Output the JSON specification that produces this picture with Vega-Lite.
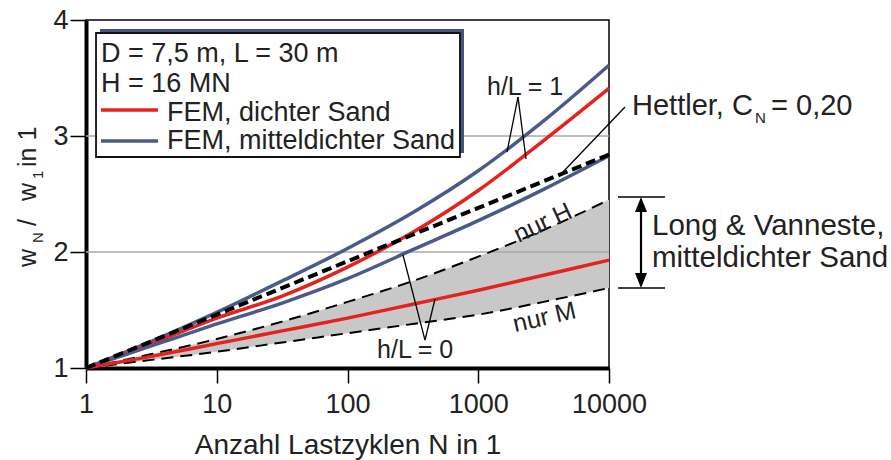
{
  "$schema": "https://vega.github.io/schema/vega-lite/v6.json",
  "width": 523,
  "height": 348,
  "autosize": {"type": "none"},
  "padding": {"left": 86, "top": 20, "right": 282, "bottom": 92},
  "background": "white",
  "config": {"view": {"stroke": "black", "strokeWidth": 1.5}, "font": "Liberation Sans"},
  "datasets": {
    "curves": [
      {"N": 1, "w": 1.0, "s": "m1"}, {"N": 3.162, "w": 1.23, "s": "m1"}, {"N": 10, "w": 1.48, "s": "m1"}, {"N": 31.62, "w": 1.75, "s": "m1"}, {"N": 100, "w": 2.03, "s": "m1"}, {"N": 316.2, "w": 2.34, "s": "m1"}, {"N": 1000, "w": 2.70, "s": "m1"}, {"N": 3162, "w": 3.13, "s": "m1"}, {"N": 10000, "w": 3.61, "s": "m1"},
      {"N": 1, "w": 1.0, "s": "d1"}, {"N": 3.162, "w": 1.21, "s": "d1"}, {"N": 10, "w": 1.43, "s": "d1"}, {"N": 31.62, "w": 1.62, "s": "d1"}, {"N": 100, "w": 1.87, "s": "d1"}, {"N": 316.2, "w": 2.17, "s": "d1"}, {"N": 1000, "w": 2.53, "s": "d1"}, {"N": 3162, "w": 2.96, "s": "d1"}, {"N": 10000, "w": 3.41, "s": "d1"},
      {"N": 1, "w": 1.0, "s": "m0"}, {"N": 3.162, "w": 1.19, "s": "m0"}, {"N": 10, "w": 1.38, "s": "m0"}, {"N": 31.62, "w": 1.56, "s": "m0"}, {"N": 100, "w": 1.77, "s": "m0"}, {"N": 316.2, "w": 2.02, "s": "m0"}, {"N": 1000, "w": 2.27, "s": "m0"}, {"N": 3162, "w": 2.54, "s": "m0"}, {"N": 10000, "w": 2.83, "s": "m0"},
      {"N": 1, "w": 1.0, "s": "d0"}, {"N": 3.162, "w": 1.10, "s": "d0"}, {"N": 10, "w": 1.21, "s": "d0"}, {"N": 31.62, "w": 1.32, "s": "d0"}, {"N": 100, "w": 1.43, "s": "d0"}, {"N": 316.2, "w": 1.55, "s": "d0"}, {"N": 1000, "w": 1.67, "s": "d0"}, {"N": 3162, "w": 1.80, "s": "d0"}, {"N": 10000, "w": 1.93, "s": "d0"}
    ],
    "hettler": [
      {"N": 1, "w": 1.0}, {"N": 10, "w": 1.46}, {"N": 100, "w": 1.92}, {"N": 1000, "w": 2.38}, {"N": 10000, "w": 2.84}
    ],
    "band": [
      {"N": 1, "w": 1.0, "lo": 1.0}, {"N": 3.162, "w": 1.12, "lo": 1.07}, {"N": 10, "w": 1.25, "lo": 1.14}, {"N": 31.62, "w": 1.40, "lo": 1.22}, {"N": 100, "w": 1.57, "lo": 1.30}, {"N": 316.2, "w": 1.75, "lo": 1.38}, {"N": 1000, "w": 1.96, "lo": 1.46}, {"N": 3162, "w": 2.19, "lo": 1.57}, {"N": 10000, "w": 2.45, "lo": 1.69}
    ],
    "bandLo": [
      {"N": 1, "w": 1.0}, {"N": 3.162, "w": 1.07}, {"N": 10, "w": 1.14}, {"N": 31.62, "w": 1.22}, {"N": 100, "w": 1.30}, {"N": 316.2, "w": 1.38}, {"N": 1000, "w": 1.46}, {"N": 3162, "w": 1.57}, {"N": 10000, "w": 1.69}
    ],
    "grid": [{"N": 1, "N2": 10000, "w": 2}, {"N": 1, "N2": 10000, "w": 3}],
    "pointers": [
      {"N": 2014, "w": 3.336, "N2": 1659, "w2": 2.862},
      {"N": 2014, "w": 3.336, "N2": 2318, "w2": 2.802},
      {"N": 13255, "w": 3.25, "N2": 4449, "w2": 2.69},
      {"N": 391.5, "w": 1.241, "N2": 265.7, "w2": 1.974},
      {"N": 391.5, "w": 1.241, "N2": 467, "w2": 1.595}
    ],
    "bracketH": [
      {"N": 11720, "N2": 26800, "w": 2.474},
      {"N": 11720, "N2": 26800, "w": 1.690}
    ],
    "bracketV": [{"N": 17570, "w": 2.43, "w2": 1.73}],
    "arrowUp": [{"N": 17570, "w": 2.409}],
    "arrowDown": [{"N": 17570, "w": 1.754}],
    "legendShadow": [{"N": 1.279, "N2": 778, "w": 2.853, "w2": 3.922}],
    "legendBox": [{"N": 1.193, "N2": 724.7, "w": 2.819, "w2": 3.888}],
    "legendLines": [
      {"N": 1.302, "N2": 3.554, "w": 3.224, "s": "d1"},
      {"N": 1.302, "N2": 3.554, "w": 2.957, "s": "m1"}
    ],
    "legendText": [
      {"N": 1.302, "w": 3.638, "text": "D = 7,5 m, L = 30 m"},
      {"N": 1.302, "w": 3.379, "text": "H = 16 MN"},
      {"N": 4.164, "w": 3.129, "text": "FEM, dichter Sand"},
      {"N": 4.164, "w": 2.888, "text": "FEM, mitteldichter Sand"}
    ],
    "annoHettler": [
      {"N": 14996, "w": 3.181, "text": "Hettler, C"},
      {"N": 173400, "w": 3.181, "text": "= 0,20"}
    ],
    "annoLong": [
      {"N": 21320, "w": 2.147, "text": "Long & Vanneste,"},
      {"N": 21320, "w": 1.871, "text": "mitteldichter Sand"}
    ],
    "annoHL": [
      {"N": 1167, "w": 3.353, "text": "h/L = 1"},
      {"N": 168.2, "w": 1.086, "text": "h/L = 0"}
    ],
    "annoSub": [
      {"N": 130900, "w": 3.112, "text": "N"}
    ],
    "nurH": [{"N": 3311, "w": 2.19, "text": "nur H"}],
    "nurM": [{"N": 3311, "w": 1.37, "text": "nur M"}],
    "ytitleMain": [
      {"N": 0.4180, "w": 1.871, "text": "w"},
      {"N": 0.4180, "w": 2.224, "text": "/"},
      {"N": 0.4180, "w": 2.440, "text": "w"},
      {"N": 0.4180, "w": 2.733, "text": "in 1"}
    ],
    "ytitleSub": [
      {"N": 0.469, "w": 2.078, "text": "N"},
      {"N": 0.469, "w": 2.629, "text": "1"}
    ]
  },
  "encoding": {
    "x": {"field": "N", "type": "quantitative", "scale": {"type": "log", "domain": [1, 10000], "nice": false},
      "axis": {"values": [1, 10, 100, 1000, 10000], "format": "d", "labelFontSize": 27, "labelColor": "#222", "tickSize": 15, "tickWidth": 1.5, "tickColor": "black", "domainWidth": 4, "domainColor": "black", "labelPadding": 8, "labelFlush": false, "labelOverlap": false, "grid": false,
        "title": "Anzahl Lastzyklen N in 1", "titleFontSize": 28, "titleFontWeight": "normal", "titleColor": "#222", "titleY": 85, "titleBaseline": "alphabetic"}},
    "y": {"field": "w", "type": "quantitative", "scale": {"domain": [1, 4], "nice": false, "zero": false},
      "axis": {"values": [1, 2, 3, 4], "labelFontSize": 27, "labelColor": "#222", "tickSize": 16, "tickWidth": 1.5, "tickColor": "black", "domainWidth": 4, "domainColor": "black", "labelPadding": 2, "grid": false, "title": null}}
  },
  "layer": [
    {
      "data": {"name": "band"},
      "mark": {"type": "area", "color": "#c8c8c8", "opacity": 1, "interpolate": "monotone"},
      "encoding": {"y2": {"field": "lo"}}
    },
    {
      "data": {"name": "grid"},
      "mark": {"type": "rule", "color": "#a8a8a8", "strokeWidth": 1.5},
      "encoding": {"x2": {"field": "N2"}}
    },
    {
      "data": {"name": "band"},
      "mark": {"type": "line", "color": "black", "strokeWidth": 2, "strokeDash": [12, 7], "interpolate": "monotone"}
    },
    {
      "data": {"name": "bandLo"},
      "mark": {"type": "line", "color": "black", "strokeWidth": 2, "strokeDash": [12, 7], "interpolate": "monotone"}
    },
    {
      "data": {"name": "curves"},
      "mark": {"type": "line", "strokeWidth": 3.5, "interpolate": "monotone"},
      "encoding": {
        "color": {"field": "s", "type": "nominal", "scale": {"domain": ["m1", "d1", "m0", "d0"], "range": ["#4a5b88", "#e42320", "#4a5b88", "#e42320"]}, "legend": null},
        "detail": {"field": "s"}
      }
    },
    {
      "data": {"name": "hettler"},
      "mark": {"type": "line", "color": "black", "strokeWidth": 4, "strokeDash": [10, 5]}
    },
    {
      "data": {"name": "pointers"},
      "mark": {"type": "rule", "color": "black", "strokeWidth": 1.3},
      "encoding": {"x2": {"field": "N2"}, "y2": {"field": "w2"}}
    },
    {
      "data": {"name": "legendShadow"},
      "mark": {"type": "rect", "color": "#44547f"},
      "encoding": {"x2": {"field": "N2"}, "y2": {"field": "w2"}}
    },
    {
      "data": {"name": "legendBox"},
      "mark": {"type": "rect", "fill": "white", "stroke": "#111", "strokeWidth": 1.8},
      "encoding": {"x2": {"field": "N2"}, "y2": {"field": "w2"}}
    },
    {
      "data": {"name": "legendLines"},
      "mark": {"type": "rule", "strokeWidth": 3.5},
      "encoding": {
        "x2": {"field": "N2"},
        "color": {"field": "s", "type": "nominal", "scale": {"domain": ["m1", "d1", "m0", "d0"], "range": ["#4a5b88", "#e42320", "#4a5b88", "#e42320"]}, "legend": null}
      }
    },
    {
      "data": {"name": "legendText"},
      "mark": {"type": "text", "align": "left", "baseline": "alphabetic", "fontSize": 27, "color": "#222"},
      "encoding": {"text": {"field": "text"}}
    },
    {
      "data": {"name": "annoHettler"},
      "mark": {"type": "text", "align": "left", "baseline": "alphabetic", "fontSize": 29, "color": "#222"},
      "encoding": {"text": {"field": "text"}}
    },
    {
      "data": {"name": "annoLong"},
      "mark": {"type": "text", "align": "left", "baseline": "alphabetic", "fontSize": 29.5, "color": "#222"},
      "encoding": {"text": {"field": "text"}}
    },
    {
      "data": {"name": "annoHL"},
      "mark": {"type": "text", "align": "left", "baseline": "alphabetic", "fontSize": 25, "color": "#222"},
      "encoding": {"text": {"field": "text"}}
    },
    {
      "data": {"name": "annoSub"},
      "mark": {"type": "text", "align": "left", "baseline": "alphabetic", "fontSize": 15, "color": "#222"},
      "encoding": {"text": {"field": "text"}}
    },
    {
      "data": {"name": "nurH"},
      "mark": {"type": "text", "align": "center", "baseline": "alphabetic", "fontSize": 25, "angle": -25, "color": "#222"},
      "encoding": {"text": {"field": "text"}}
    },
    {
      "data": {"name": "nurM"},
      "mark": {"type": "text", "align": "center", "baseline": "alphabetic", "fontSize": 25, "angle": -13, "color": "#222"},
      "encoding": {"text": {"field": "text"}}
    },
    {
      "data": {"name": "bracketH"},
      "mark": {"type": "rule", "color": "black", "strokeWidth": 1.5},
      "encoding": {"x2": {"field": "N2"}}
    },
    {
      "data": {"name": "bracketV"},
      "mark": {"type": "rule", "color": "black", "strokeWidth": 2.2},
      "encoding": {"y2": {"field": "w2"}}
    },
    {
      "data": {"name": "arrowUp"},
      "mark": {"type": "point", "shape": "M0,-1L0.8,1L-0.8,1Z", "size": 225, "filled": true, "color": "black", "opacity": 1}
    },
    {
      "data": {"name": "arrowDown"},
      "mark": {"type": "point", "shape": "M0,1L0.8,-1L-0.8,-1Z", "size": 225, "filled": true, "color": "black", "opacity": 1}
    },
    {
      "data": {"name": "ytitleMain"},
      "mark": {"type": "text", "align": "left", "baseline": "alphabetic", "fontSize": 25, "angle": -90, "color": "#222"},
      "encoding": {"text": {"field": "text"}}
    },
    {
      "data": {"name": "ytitleSub"},
      "mark": {"type": "text", "align": "left", "baseline": "alphabetic", "fontSize": 15, "angle": -90, "color": "#222"},
      "encoding": {"text": {"field": "text"}}
    }
  ]
}
